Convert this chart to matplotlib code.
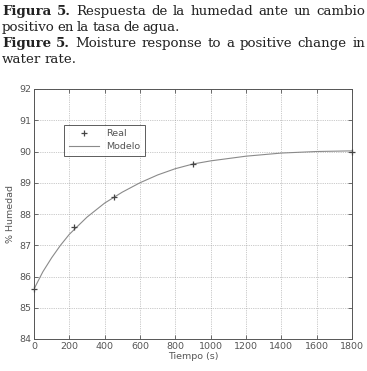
import numpy as np
import matplotlib
matplotlib.use('Agg')
import matplotlib.pyplot as plt

# data
t_real = [0, 225, 450, 900, 1800]
h_real = [85.6, 87.6, 88.55, 89.6, 90.0]
t_model = [0, 50, 100, 150, 200, 300, 400, 500, 600, 700, 800, 900, 1000, 1200, 1400, 1600, 1800]
h_model = [85.6, 86.15, 86.6, 87.0, 87.35, 87.9, 88.35, 88.7, 89.0, 89.25, 89.45, 89.6,
           89.7, 89.85, 89.95, 90.0, 90.02]
x_ticks = list(range(0, 1801, 200))
y_ticks = list(range(84, 93))

caption = [
    ([("Figura 5.", "bold"), ("Respuesta de la humedad ante un cambio", "normal")], True),
    ([("positivo en la tasa de agua.", "normal")], False),
    ([("Figure 5.", "bold"), ("Moisture response to a positive change in", "normal")], True),
    ([("water rate.", "normal")], False),
]

W, H = 367, 371
fig = plt.figure(figsize=(W / 100, H / 100), dpi=100)
ax = fig.add_axes([34 / W, 1 - 339 / H, 318 / W, 250 / H])

gray = '#555555'
ax.plot(t_model, h_model, color='#8a8a8a', lw=0.8, label='Modelo', zorder=3)
ax.plot(t_real, h_real, linestyle='none', marker='+', color='#444444', ms=5, mew=0.9,
        label='Real', zorder=4, clip_on=False)

ax.set_xlim(0, 1800)
ax.set_ylim(84, 92)
ax.set_xticks(x_ticks)
ax.set_yticks(y_ticks)
ax.grid(True, linestyle=(0, (1, 1.6)), color='#999999', lw=0.5)
ax.tick_params(direction='in', length=3, width=0.6, color=gray, labelsize=6.8,
               labelcolor=gray, pad=2, top=True, right=True)
for s in ax.spines.values():
    s.set_color(gray)
    s.set_linewidth(0.7)
ax.set_xlabel('Tiempo (s)', fontsize=6.8, color=gray, labelpad=1)
ax.set_ylabel('% Humedad', fontsize=6.8, color=gray, labelpad=3)

h, l = ax.get_legend_handles_labels()
leg = ax.legend(h[::-1], l[::-1], loc='upper left', bbox_to_anchor=(0.079, 0.876),
                fontsize=6.8, frameon=True, fancybox=False, borderpad=0.5,
                handlelength=3.2, labelspacing=0.4)
leg.get_frame().set_edgecolor('#333333')
leg.get_frame().set_linewidth(0.7)
for txt in leg.get_texts():
    txt.set_color(gray)

# caption with manual justification
renderer = fig.canvas.get_renderer()
fs = 9.6
left, right = 2, 365
base_y = [15, 31, 47, 63]
for (parts, justify), yb in zip(caption, base_y):
    words = []
    for text, wgt in parts:
        for w in text.split():
            words.append((w, wgt))
    arts = []
    for w, wgt in words:
        a = fig.text(0, 1 - yb / H, w, fontsize=fs, fontweight=wgt, family='DejaVu Serif',
                     va='baseline', ha='left', color='#222222')
        arts.append(a)
    widths = [a.get_window_extent(renderer).width for a in arts]
    if justify and len(arts) > 1:
        gap = (right - left - sum(widths)) / (len(arts) - 1)
    else:
        gap = fs * 0.3
    x = left
    for a, w in zip(arts, widths):
        a.set_x(x / W)
        x += w + gap

fig.savefig('out.png', dpi=100)
